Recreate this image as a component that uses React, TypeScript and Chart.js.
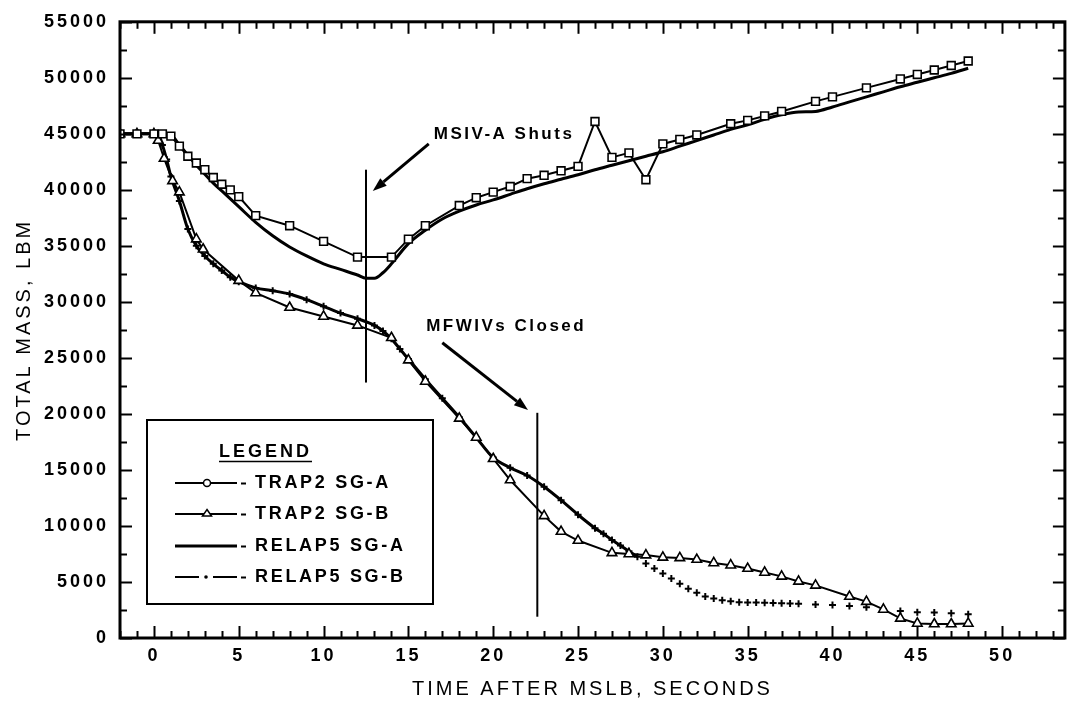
import React, { useEffect, useRef } from 'react';
import { Chart, registerables } from 'chart.js';

Chart.register(...registerables);

// ---------- data ----------
const trap2ATime = [-2, -1, 0, 0.5, 1, 1.5, 2, 2.5, 3, 3.5, 4, 4.5, 5, 6, 8, 10, 12, 14, 15, 16, 18, 19, 20, 21, 22, 23, 24, 25, 26, 27, 28, 29, 30, 31, 32, 34, 35, 36, 37, 39, 40, 42, 44, 45, 46, 47, 48];
const trap2AMass = [45000, 45000, 45000, 45000, 44800, 43900, 43000, 42400, 41800, 41100, 40500, 40000, 39400, 37700, 36800, 35400, 34000, 34000, 35600, 36800, 38600, 39300, 39800, 40300, 41000, 41300, 41700, 42100, 46100, 42900, 43300, 40900, 44100, 44500, 44900, 45900, 46200, 46600, 47000, 47900, 48300, 49100, 49900, 50300, 50700, 51100, 51500];

const trap2BTime = [-2, -1, 0, 0.25, 0.6, 1.1, 1.5, 2.5, 2.9, 5, 6, 8, 10, 12, 14, 15, 16, 18, 19, 20, 21, 23, 24, 25, 27, 28, 29, 30, 31, 32, 33, 34, 35, 36, 37, 38, 39, 41, 42, 43, 44, 45, 46, 47, 48];
const trap2BMass = [45000, 45000, 45000, 44400, 42800, 40800, 39800, 35600, 34700, 31900, 30800, 29500, 28700, 27900, 26800, 24800, 22900, 19600, 17900, 16000, 14100, 10900, 9500, 8700, 7600, 7500, 7400, 7200, 7150, 7000, 6700, 6500, 6200, 5850, 5500, 5050, 4700, 3700, 3250, 2550, 1750, 1300, 1250, 1250, 1300];

const relap5ATime = [-2, -1, 0, 0.5, 1, 1.5, 2, 2.5, 3, 3.5, 4, 5, 6, 7, 8, 9, 10, 11, 12, 12.5, 13, 13.5, 14, 15, 16, 17, 18, 19, 20, 21, 22, 23, 24, 25, 26, 27, 28, 29, 30, 31, 32, 33, 34, 35, 36, 37, 38, 39, 40, 41, 42, 43, 44, 45, 46, 47, 48];
const relap5AMass = [45000, 45000, 45000, 45000, 44900, 44000, 43100, 42200, 41400, 40600, 39900, 38500, 37100, 35900, 34900, 34100, 33400, 32900, 32400, 32100, 32100, 32600, 33400, 35200, 36400, 37400, 38100, 38650, 39100, 39600, 40100, 40550, 40950, 41350, 41800, 42200, 42600, 43000, 43400, 43900, 44400, 44900, 45400, 45800, 46300, 46700, 46950, 47000, 47400, 47850, 48300, 48750, 49200, 49600, 50000, 50400, 50850];

const relap5BTime = [-2, -1, 0, 0.25, 0.5, 0.75, 1, 1.5, 2, 2.5, 3, 3.5, 4, 4.5, 5, 6, 7, 8, 9, 10, 11, 12, 13, 13.5, 14, 14.5, 15, 16, 17, 18, 19, 20, 21, 22, 23, 24, 25, 26, 26.5, 27, 27.5, 28, 28.5, 29, 29.5, 30, 30.5, 31, 31.5, 32, 32.5, 33, 33.5, 34, 34.5, 35, 35.5, 36, 36.5, 37, 37.5, 38, 39, 40, 41, 42, 43, 44, 45, 46, 47, 48];
const relap5BMass = [45000, 45000, 45000, 45000, 44000, 42700, 41200, 39000, 36500, 35000, 34100, 33400, 32800, 32200, 31800, 31250, 31000, 30700, 30200, 29600, 29000, 28500, 27900, 27400, 26700, 25800, 24900, 23100, 21400, 19700, 17900, 16100, 15200, 14500, 13500, 12300, 11000, 9800, 9300, 8750, 8250, 7750, 7250, 6650, 6200, 5750, 5300, 4850, 4400, 4050, 3700, 3520, 3370, 3270, 3200, 3170, 3160, 3150, 3130, 3100, 3080, 3050, 3000, 2950, 2850, 2750, 2580, 2400, 2300, 2280, 2200, 2120];

const xTickValues = [0, 5, 10, 15, 20, 25, 30, 35, 40, 45, 50];
const yTickValues = [0, 5000, 10000, 15000, 20000, 25000, 30000, 35000, 40000, 45000, 50000, 55000];

const seriesNames = ['TRAP2 SG-A', 'TRAP2 SG-B', 'RELAP5 SG-A', 'RELAP5 SG-B'];

// event annotations (time, mass in data units)
const eventLines = [
  { time: 12.5, from: 22800, to: 41800 },
  { time: 22.6, from: 1900, to: 20100 },
];
const eventArrows = [
  { t0: 16.2, m0: 44100, t1: 12.9, m1: 39900 },
  { t0: 17.0, m0: 26350, t1: 22.05, m1: 20350 },
];
const eventNotes = [
  { text: 'MSIV-A Shuts', time: 16.5, mass: 45000 },
  { text: 'MFWIVs Closed', time: 16.05, mass: 27850 },
];

const FONT = '"Liberation Sans", Arial, Helvetica, sans-serif';

const toPoints = (t: number[], m: number[]) => t.map((x, i) => ({ x, y: m[i] }));

const decorPlugin = {
  id: 'decor',
  beforeDraw(chart: any) {
    chart.ctx.letterSpacing = '3px';
  },
  afterDraw(chart: any) {
    const ctx = chart.ctx;
    const a = chart.chartArea;
    const xs = chart.scales.x;
    const ys = chart.scales.y;
    const X = (v: number) => xs.getPixelForValue(v);
    const Y = (v: number) => ys.getPixelForValue(v);
    const line = (x1: number, y1: number, x2: number, y2: number) => {
      ctx.beginPath();
      ctx.moveTo(x1, y1);
      ctx.lineTo(x2, y2);
      ctx.stroke();
    };
    ctx.save();
    ctx.letterSpacing = '0px';
    ctx.strokeStyle = '#000';
    ctx.fillStyle = '#000';
    ctx.lineCap = 'butt';

    // frame
    ctx.lineWidth = 3;
    ctx.strokeRect(a.left, a.top, a.right - a.left, a.bottom - a.top);

    // tick marks (inward, all four sides)
    ctx.lineWidth = 2;
    for (let t = -2; t <= 53; t++) {
      const px = Math.round(X(t)) + 0.5;
      const len = t % 5 === 0 ? 12 : 7;
      line(px, a.bottom, px, a.bottom - len);
      line(px, a.top, px, a.top + len);
    }
    for (let v = 0; v <= 55000; v += 2500) {
      const py = Math.round(Y(v)) + 0.5;
      const len = v % 5000 === 0 ? 12 : 7;
      line(a.left, py, a.left + len, py);
      line(a.right, py, a.right - len, py);
    }

    // event lines
    ctx.lineWidth = 2;
    eventLines.forEach((e) => {
      const px = X(e.time);
      line(px, Y(e.from), px, Y(e.to));
    });

    // arrows
    eventArrows.forEach((ar) => {
      const x0 = X(ar.t0), y0 = Y(ar.m0), x1 = X(ar.t1), y1 = Y(ar.m1);
      const ang = Math.atan2(y1 - y0, x1 - x0);
      const head = 14, half = 5;
      const bx = x1 - head * Math.cos(ang), by = y1 - head * Math.sin(ang);
      ctx.lineWidth = 3;
      line(x0, y0, bx, by);
      ctx.beginPath();
      ctx.moveTo(x1, y1);
      ctx.lineTo(bx + half * Math.sin(ang), by - half * Math.cos(ang));
      ctx.lineTo(bx - half * Math.sin(ang), by + half * Math.cos(ang));
      ctx.closePath();
      ctx.fill();
    });

    // notes
    ctx.font = `bold 17px ${FONT}`;
    ctx.letterSpacing = '2.5px';
    ctx.textAlign = 'left';
    ctx.textBaseline = 'middle';
    eventNotes.forEach((n) => ctx.fillText(n.text, X(n.time), Y(n.mass)));

    // legend box
    const L = { left: 147, top: 420, w: 286, h: 184 };
    ctx.lineWidth = 2;
    ctx.fillStyle = '#fff';
    ctx.fillRect(L.left, L.top, L.w, L.h);
    ctx.fillStyle = '#000';
    ctx.strokeRect(L.left, L.top, L.w, L.h);
    ctx.font = `bold 18px ${FONT}`;
    ctx.letterSpacing = '3px';
    ctx.textAlign = 'left';
    ctx.fillText('LEGEND', 219, 452);
    ctx.lineWidth = 1.5;
    line(219, 461.5, 312, 461.5);

    const rows = [483, 514, 546, 577];
    ctx.letterSpacing = '2.7px';
    seriesNames.forEach((name, i) => {
      const y = rows[i];
      ctx.lineWidth = i === 2 ? 3 : 2;
      if (i === 3) {
        line(175, y, 199, y);
        line(213, y, 237, y);
        ctx.beginPath();
        ctx.arc(206, y, 1.8, 0, Math.PI * 2);
        ctx.fill();
      } else {
        line(175, y, 237, y);
      }
      if (i === 0) {
        ctx.lineWidth = 1.5;
        ctx.beginPath();
        ctx.arc(207, y, 3.5, 0, Math.PI * 2);
        ctx.fillStyle = '#fff';
        ctx.fill();
        ctx.stroke();
        ctx.fillStyle = '#000';
      }
      if (i === 1) {
        ctx.lineWidth = 1.5;
        ctx.beginPath();
        ctx.moveTo(207, y - 4.5);
        ctx.lineTo(211.5, y + 2);
        ctx.lineTo(202.5, y + 2);
        ctx.closePath();
        ctx.fillStyle = '#fff';
        ctx.fill();
        ctx.stroke();
        ctx.fillStyle = '#000';
      }
      ctx.lineWidth = 2;
      line(241, y + 0.5, 246, y + 0.5);
      ctx.fillText(name, 255, y);
    });

    ctx.restore();
    ctx.letterSpacing = '0px';
  },
};

export default function App() {
  const ref = useRef<HTMLCanvasElement>(null);

  useEffect(() => {
    const canvas = ref.current;
    if (!canvas) return;
    const chart = new Chart(canvas, {
      type: 'scatter',
      data: {
        datasets: [
          {
            label: seriesNames[0],
            data: toPoints(trap2ATime, trap2AMass),
            showLine: true,
            borderColor: '#000',
            borderWidth: 2,
            pointStyle: 'rect',
            pointRadius: 5.5,
            pointBorderWidth: 1.6,
            pointBorderColor: '#000',
            pointBackgroundColor: '#fff',
            tension: 0,
            order: 0,
          },
          {
            label: seriesNames[1],
            data: toPoints(trap2BTime, trap2BMass),
            showLine: true,
            borderColor: '#000',
            borderWidth: 2,
            pointStyle: 'triangle',
            pointRadius: 5.5,
            pointBorderWidth: 1.6,
            pointBorderColor: '#000',
            pointBackgroundColor: '#fff',
            tension: 0,
            order: 1,
          },
          {
            label: seriesNames[2],
            data: toPoints(relap5ATime, relap5AMass),
            showLine: true,
            borderColor: '#000',
            borderWidth: 3,
            pointRadius: 0,
            cubicInterpolationMode: 'monotone',
            order: 2,
          },
          {
            label: seriesNames[3],
            data: toPoints(relap5BTime, relap5BMass),
            showLine: true,
            borderColor: '#000',
            borderWidth: 3,
            pointStyle: 'cross',
            pointRadius: 3.5,
            pointBorderWidth: 2,
            pointBorderColor: '#000',
            cubicInterpolationMode: 'monotone',
            segment: {
              borderColor: (c: any) => (c.p1.parsed.x > 28.6 ? 'rgba(0,0,0,0)' : undefined),
            },
            order: 3,
          },
        ] as any,
      },
      options: {
        responsive: false,
        animation: false,
        devicePixelRatio: 1,
        layout: { padding: { top: 16, right: 5, left: 0, bottom: 0 } },
        plugins: { legend: { display: false }, tooltip: { enabled: false } },
        scales: {
          x: {
            type: 'linear',
            min: -2,
            max: 53.7,
            grid: { display: false, drawTicks: false },
            border: { display: false },
            afterBuildTicks: (s: any) => {
              s.ticks = xTickValues.map((v) => ({ value: v }));
            },
            afterFit: (s: any) => {
              s.height = 67;
            },
            ticks: {
              autoSkip: false,
              maxRotation: 0,
              padding: 7,
              color: '#000',
              font: { family: FONT, size: 18, weight: 'bold' },
              callback: (v: any) => String(v),
            },
            title: {
              display: true,
              text: 'TIME AFTER MSLB, SECONDS',
              color: '#000',
              font: { family: FONT, size: 20, weight: 'normal' },
              padding: { top: 0, bottom: 4 },
            },
          },
          y: {
            type: 'linear',
            min: 0,
            max: 55000,
            grid: { display: false, drawTicks: false },
            border: { display: false },
            afterBuildTicks: (s: any) => {
              s.ticks = yTickValues.map((v) => ({ value: v }));
            },
            afterFit: (s: any) => {
              s.width = 120;
            },
            ticks: {
              autoSkip: false,
              padding: 11,
              color: '#000',
              font: { family: FONT, size: 18, weight: 'bold' },
              callback: (v: any) => String(v),
            },
            title: {
              display: true,
              text: 'TOTAL MASS, LBM',
              color: '#000',
              font: { family: FONT, size: 20, weight: 'normal' },
              padding: { top: 12, bottom: 0 },
            },
          },
        },
      } as any,
      plugins: [decorPlugin as any],
    });
    return () => chart.destroy();
  }, []);

  return (
    <div style={{ position: 'fixed', left: 0, top: 0, width: 1072, height: 705, background: '#fff' }}>
      <canvas ref={ref} width={1072} height={705} style={{ display: 'block', width: 1072, height: 705 }} />
    </div>
  );
}
